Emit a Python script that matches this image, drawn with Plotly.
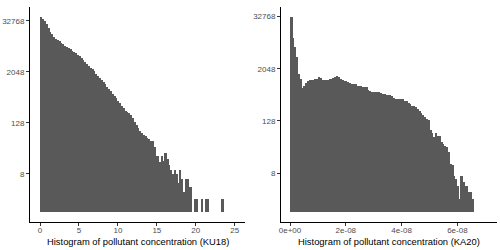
import plotly.graph_objects as go
import numpy as np

# ---- data ----
left_title = "Histogram of pollutant concentration (KU18)"
right_title = "Histogram of pollutant concentration (KA20)"

left_bin_start = 0.064
left_bin_width = 0.235
left_counts = [41200, 36870, 32310, 27180, 22380, 18430, 16150, 14070, 12590, 11590,
               10810, 10090, 9280, 8540, 8080, 7640, 7130, 6560, 6170, 5670,
               5290, 4800, 4300, 3850, 3490, 3170, 2860, 2590, 2350, 2110,
               1880, 1690, 1510, 1350, 1220, 1075, 923, 826, 719, 626,
               560, 491, 416, 372, 324, 290, 252, 234, 215, 193,
               168, 138, 114, 99, 83, 74, 66, 62, 58, 53,
               48, 47, 34, 21, 21, 15, 21, 16, 25, 18,
               13, 10, 8, 10, 8, 5, 10, 6, 3, 6,
               6, 4, 4, 1, 2, 2, 1, 1, 2, 1,
               2, 2, 1, 1, 1, 1, 1, 1, 1, 2]

right_bin_start = 2.5e-10
right_bin_width = 6.56e-10
right_counts = [32300, 10660, 6470, 3900, 1550, 1185, 719, 803, 955, 1082,
                1144, 1144, 1105, 1185, 1185, 1296, 1218, 1152, 1121, 1121,
                1121, 1185, 1185, 1218, 1287, 1370, 1314, 1185, 1121, 1067,
                1038, 996, 955, 923, 904, 885, 838, 815, 803, 792,
                760, 760, 676, 635, 600, 600, 600, 588, 580, 576,
                545, 530, 516, 502, 502, 491, 440, 416, 405, 405,
                405, 405, 375, 365, 328, 311, 284, 278, 265, 237,
                217, 191, 172, 154, 143, 135, 77, 68, 53, 66,
                57, 56, 42, 37, 34, 32, 25, 13, 12, 7,
                6, 4, 2, 7, 5, 4, 4, 3, 3, 2]

y_tick_vals = [8, 128, 2048, 32768]
y_tick_text = ["8", "128", "2048", "32768"]
left_x_ticks = [0, 5, 10, 15, 20, 25]
left_x_text = ["0", "5", "10", "15", "20", "25"]
right_x_ticks = [0, 2e-08, 4e-08, 6e-08]
right_x_text = ["0e+00", "2e-08", "4e-08", "6e-08"]

# ---- figure ----
FONT = "Liberation Sans, Arial, Helvetica, sans-serif"
BAR = "#595959"


def centers(start, width, n):
    return start + width * (np.arange(n) + 0.5)


def log_range(counts):
    top = np.log2(max(counts))
    return [(-0.05 * top) * np.log10(2), (1.05 * top) * np.log10(2)]


fig = go.Figure()
for counts, start, width, xa, ya in [
    (left_counts, left_bin_start, left_bin_width, "x", "y"),
    (right_counts, right_bin_start, right_bin_width, "x2", "y2"),
]:
    c = np.array(counts, dtype=float)
    fig.add_trace(go.Bar(
        x=centers(start, width, len(c)),
        y=c - 1,
        base=1,
        width=width,
        marker=dict(color=BAR, line=dict(width=0)),
        xaxis=xa, yaxis=ya,
        hoverinfo="skip",
    ))

axis_common = dict(
    showline=True, linecolor="#000000", linewidth=1,
    ticks="outside", ticklen=3, tickwidth=1, tickcolor="#333333",
    tickfont=dict(family=FONT, size=8, color="#4d4d4d"),
    showgrid=False, zeroline=False, automargin=False,
)

ydom = [(250 - 222) / 250, (250 - 7) / 250]

fig.update_layout(
    width=500, height=250,
    margin=dict(l=0, r=0, t=0, b=0, autoexpand=False),
    paper_bgcolor="white", plot_bgcolor="white",
    showlegend=False, bargap=0,
    font=dict(family=FONT),
    xaxis=dict(domain=[30 / 500, 245 / 500], range=[-1.284, 26.32],
               tickvals=left_x_ticks, ticktext=left_x_text, ticklabelstandoff=-3,
               anchor="y", **axis_common),
    yaxis=dict(domain=ydom, type="log", range=log_range(left_counts),
               tickvals=y_tick_vals, ticktext=y_tick_text,
               anchor="x", **axis_common),
    xaxis2=dict(domain=[281 / 500, 497 / 500], range=[-0.323e-8, 7.42e-8],
                tickvals=right_x_ticks, ticktext=right_x_text, ticklabelstandoff=-3,
                anchor="y2", **axis_common),
    yaxis2=dict(domain=ydom, type="log", range=log_range(right_counts),
                tickvals=y_tick_vals, ticktext=y_tick_text,
                anchor="x2", **axis_common),
)

# axis titles placed as text under each panel
for title, xa in [(left_title, "x"), (right_title, "x2")]:
    fig.add_annotation(
        text=title, xref=f"{xa} domain", yref="paper",
        x=0.5, y=(250 - 241.5) / 250, xanchor="center", yanchor="middle",
        showarrow=False, font=dict(family=FONT, size=9.4, color="#000000"),
    )

fig.write_html("out.html",
               config={"displayModeBar": False},
               post_script="document.body.style.margin='0';document.body.style.overflow='hidden';")
